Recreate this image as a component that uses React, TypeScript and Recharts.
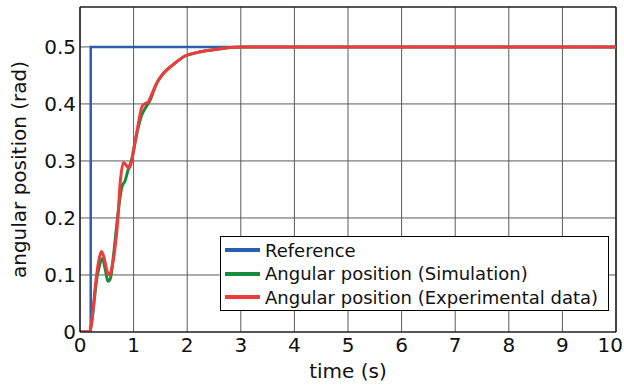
import React from "react";
import {
  LineChart,
  Line,
  XAxis,
  YAxis,
  CartesianGrid,
  Legend,
  ReferenceLine,
} from "recharts";

const FONT = "'DejaVu Sans', sans-serif";

// time axis ticks (s) and angle ticks (rad)
const timeTicks = [0, 1, 2, 3, 4, 5, 6, 7, 8, 9, 10];
const angleTicks = [0, 0.1, 0.2, 0.3, 0.4, 0.5];

const seriesNames = [
  "Reference",
  "Angular position (Simulation)",
  "Angular position (Experimental data)",
];

// reference step
const refTime = [0, 0.2, 0.2, 10];
const refAngle = [0, 0, 0.5, 0.5];

// simulation
const simTime = [
  0, 0.18, 0.22, 0.26, 0.3, 0.36, 0.42, 0.47, 0.52, 0.57, 0.62, 0.7, 0.78,
  0.84, 0.9, 0.96, 1.06, 1.15, 1.22, 1.3, 1.43, 1.55, 1.74, 1.96, 2.18, 2.49,
  2.8, 3.04, 10,
];
const simAngle = [
  0, 0, 0.018, 0.05, 0.085, 0.115, 0.129, 0.11, 0.089, 0.095, 0.13, 0.2,
  0.254, 0.265, 0.285, 0.301, 0.348, 0.38, 0.393, 0.405, 0.436, 0.453, 0.469,
  0.484, 0.49, 0.495, 0.499, 0.5, 0.5,
];

// experimental data
const expTime = [
  0, 0.18, 0.22, 0.26, 0.3, 0.35, 0.4, 0.45, 0.5, 0.55, 0.6, 0.65, 0.7, 0.75,
  0.81, 0.86, 0.91, 0.96, 1.0, 1.05, 1.09, 1.16, 1.22, 1.27, 1.33, 1.43, 1.55,
  1.74, 1.96, 2.18, 2.49, 2.8, 3.04, 10,
];
const expAngle = [
  0, 0, 0.02, 0.055, 0.092, 0.125, 0.141, 0.13, 0.108, 0.1, 0.115, 0.145,
  0.19, 0.262, 0.297, 0.293, 0.287, 0.298, 0.319, 0.345, 0.366, 0.396, 0.401,
  0.403, 0.415, 0.436, 0.453, 0.469, 0.484, 0.49, 0.495, 0.499, 0.5, 0.5,
];

const toPoints = (t: number[], v: number[]) =>
  t.map((time, i) => ({ t: time, v: v[i] }));

const refData = toPoints(refTime, refAngle);
const simData = toPoints(simTime, simAngle);
const expData = toPoints(expTime, expAngle);

function LegendBox(props: any) {
  const items = [...(props.payload || [])].sort(
    (a: any, b: any) => seriesNames.indexOf(a.value) - seriesNames.indexOf(b.value)
  );
  return (
    <div
      style={{
        width: 389,
        height: 75,
        boxSizing: "border-box",
        border: "1px solid #000",
        background: "#fff",
        paddingTop: 1.5,
        paddingLeft: 4,
        fontFamily: FONT,
        fontSize: 18,
        color: "#111",
      }}
    >
      {items.map((item: any) => (
        <div
          key={item.value}
          style={{ height: 23.5, display: "flex", alignItems: "center" }}
        >
          <div
            style={{ width: 35, height: 4, background: item.color, marginRight: 5 }}
          />
          <span style={{ whiteSpace: "nowrap" }}>{item.value}</span>
        </div>
      ))}
    </div>
  );
}

// last label sits against the right edge, like the original
function TimeTick(props: any) {
  const { x, y, payload } = props;
  const last = payload.value === 10;
  return (
    <text
      x={last ? 623 : x}
      y={y}
      dy="0.71em"
      textAnchor={last ? "end" : "middle"}
      fontFamily={FONT}
      fontSize={20}
      fill="#111"
    >
      {payload.value}
    </text>
  );
}

export default function App() {
  const tickStyle = { fontFamily: FONT, fontSize: 20, fill: "#111" };
  return (
    <div style={{ position: "absolute", left: 0, top: 0, background: "#fff" }}>
      <LineChart
        width={624}
        height={385}
        margin={{ top: 7, right: 8, bottom: 0, left: 0 }}
      >
        <CartesianGrid stroke="#5a5a5a" strokeWidth={1} />
        <XAxis
          dataKey="t"
          type="number"
          domain={[0, 10]}
          ticks={timeTicks}
          allowDataOverflow
          height={53}
          tickLine={false}
          tickSize={0}
          tickMargin={6}
          axisLine={{ stroke: "#000", strokeWidth: 1.2 }}
          tick={<TimeTick />}
          label={{
            value: "time (s)",
            position: "insideBottom",
            offset: 7,
            style: { fontFamily: FONT, fontSize: 20, fill: "#111" },
          }}
        />
        <YAxis
          type="number"
          domain={[0, 0.57]}
          ticks={angleTicks}
          allowDataOverflow
          width={80}
          tickLine={false}
          tickSize={0}
          tickMargin={4}
          axisLine={{ stroke: "#000", strokeWidth: 1.2 }}
          tick={tickStyle}
          tickFormatter={(v: number) => (v === 0 ? "0" : v.toFixed(1))}
          label={{
            value: "angular position (rad)",
            angle: -90,
            position: "insideLeft",
            offset: 19,
            style: {
              fontFamily: FONT,
              fontSize: 20,
              fill: "#111",
              textAnchor: "middle",
            },
          }}
        />
        <ReferenceLine x={10} stroke="#000" strokeWidth={1.2} />
        <ReferenceLine y={0.57} stroke="#000" strokeWidth={1.2} />
        <Legend
          layout="horizontal"
          verticalAlign="middle"
          align="center"
          content={<LegendBox />}
          wrapperStyle={{ left: 220, top: 236, width: 389, height: 75 }}
        />
        <Line
          name={seriesNames[0]}
          data={refData}
          dataKey="v"
          type="linear"
          stroke="#2b5fad"
          strokeWidth={2.5}
          dot={false}
          isAnimationActive={false}
        />
        <Line
          name={seriesNames[1]}
          data={simData}
          dataKey="v"
          type="monotone"
          stroke="#1a8a3c"
          strokeWidth={3}
          dot={false}
          isAnimationActive={false}
        />
        <Line
          name={seriesNames[2]}
          data={expData}
          dataKey="v"
          type="monotone"
          stroke="#ef3b3b"
          strokeWidth={3}
          dot={false}
          isAnimationActive={false}
        />
      </LineChart>
    </div>
  );
}
